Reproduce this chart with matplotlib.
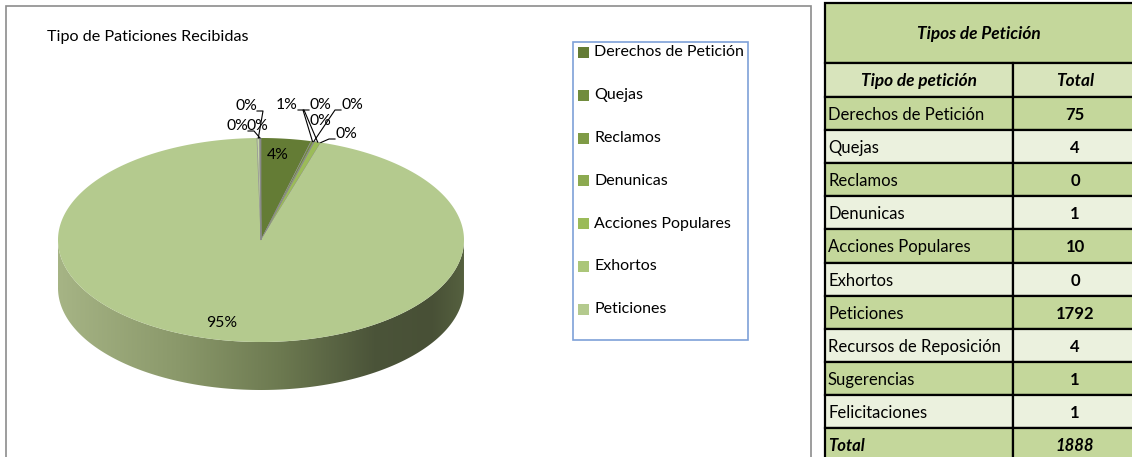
import numpy as np
import matplotlib.pyplot as plt
from matplotlib.patches import Rectangle, Polygon
from matplotlib.colors import LinearSegmentedColormap

# data
categories = ['Derechos de Petición', 'Quejas', 'Reclamos', 'Denunicas',
              'Acciones Populares', 'Exhortos', 'Peticiones',
              'Recursos de Reposición', 'Sugerencias', 'Felicitaciones']
totals = [75, 4, 0, 1, 10, 0, 1792, 4, 1, 1]
legend_count = 7
chart_title = 'Tipo de Paticiones Recibidas'
table_title = 'Tipos de Petición'
table_headers = ['Tipo de petición', 'Total']

# styles
slice_colors = ['#647c35', '#718c3d', '#7f9b46', '#8caa50', '#9bbb59',
                '#abc679', '#b4ca8e', '#c5d6a8', '#d3e1bd', '#e0eace']
side_cmap = LinearSegmentedColormap.from_list(
    'side', [(0, '#a6b485'), (0.3, '#8a986a'), (0.55, '#6c7950'),
             (0.78, '#4b5439'), (0.92, '#485036'), (1, '#55603f')])
dark_row, light_row, header_row = '#c4d79b', '#ebf1de', '#d8e4bc'

# label layout (pixel positions of the percent labels)
label_pos = [(278, 155), (320, 105), (352, 105), (320, 121), (287, 105),
             (346, 134), (222, 323), (246, 106), (237, 126), (257, 126)]
label_leader = [False, True, True, False, True, True, False, True, True, False]

plt.rcParams['font.family'] = ['Lato', 'DejaVu Sans']

fig = plt.figure(figsize=(11.32, 4.57), dpi=100)
ax = fig.add_axes([0, 0, 1, 1])

# chart frame
ax.add_patch(Rectangle((6, 6), 805, 470, facecolor='white', edgecolor='#8c8c8c', lw=1.2))
ax.text(47, 37, chart_title, fontsize=11.6, va='center', ha='left')

# 3d pie geometry
cx, cy, rx, ry, depth = 261, 240, 203, 102, 48
total = sum(totals)
fracs = np.array(totals) / total
bounds = 90 - 360 * np.concatenate([[0], np.cumsum(fracs)])


def ell(theta, dy=0.0):
    t = np.radians(theta)
    return cx + rx * np.cos(t), cy - ry * np.sin(t) + dy


# side walls (front half only)
for i in range(len(totals)):
    a1, a2 = bounds[i], bounds[i + 1]
    if a1 - a2 <= 0:
        continue
    th = np.linspace(a1, a2, 400)
    th = th[np.sin(np.radians(th)) < 0]
    if len(th) < 2:
        continue
    xs, ys = ell(th)
    xb, yb = ell(th[::-1], depth)
    pts = np.column_stack([np.concatenate([xs, xb]), np.concatenate([ys, yb])])
    poly = Polygon(pts, closed=True, facecolor='none', edgecolor='none')
    ax.add_patch(poly)
    im = ax.imshow(np.linspace(0, 1, 256)[None, :], cmap=side_cmap, aspect='auto',
                   extent=(cx - rx, cx + rx, cy + ry + depth, cy - ry), zorder=1)
    im.set_clip_path(poly)

# top surface
for i in range(len(totals)):
    a1, a2 = bounds[i], bounds[i + 1]
    if a1 - a2 <= 0:
        continue
    th = np.linspace(a1, a2, max(3, int((a1 - a2) * 2) + 2))
    xs, ys = ell(th)
    pts = np.column_stack([np.concatenate([[cx], xs]), np.concatenate([[cy], ys])])
    thin = (a1 - a2) < 3
    ax.add_patch(Polygon(pts, closed=True, facecolor=slice_colors[i],
                         edgecolor='#8a8a8a' if thin else 'none', lw=0.5, zorder=2))

# percent labels
for i, v in enumerate(totals):
    lx, ly = label_pos[i]
    ax.text(lx, ly, f'{round(v / total * 100)}%', fontsize=11.3, ha='center', va='center', zorder=4)
    if label_leader[i]:
        mid = (bounds[i] + bounds[i + 1]) / 2
        axx, ayy = ell(mid)
        s = 1 if axx > lx else -1
        sx, ex = lx + s * 11, lx + s * 17
        ax.plot([sx, ex, axx], [ly + 5, ly + 5, ayy], color='black', lw=0.8, zorder=3)

# legend
ax.add_patch(Rectangle((573, 42), 175, 298, facecolor='white', edgecolor='#7ea1d8', lw=1.2))
for i in range(legend_count):
    y = 52.5 + i * 42.8
    ax.add_patch(Rectangle((578, y - 5.5), 11, 11, facecolor=slice_colors[i], edgecolor='none'))
    ax.text(594, y, categories[i], fontsize=11.5, va='center', ha='left')

# table
tsize = 12
x0, x1, x2 = 825, 1013, 1138
row_h = 33.1
ax.add_patch(Rectangle((x0, 3), x2 - x0, 60, facecolor=dark_row, edgecolor='black', lw=1.6))
ax.text((x0 + 1132) / 2, 34, table_title, fontsize=12.4, fontweight='bold', fontstyle='italic',
        ha='center', va='center')
ax.add_patch(Rectangle((x0, 63), x1 - x0, 34, facecolor=header_row, edgecolor='black', lw=1.6))
ax.add_patch(Rectangle((x1, 63), x2 - x1, 34, facecolor=header_row, edgecolor='black', lw=1.6))
ax.text((x0 + x1) / 2, 81, table_headers[0], fontsize=12.4, fontweight='bold', fontstyle='italic',
        ha='center', va='center')
ax.text((x1 + 1137) / 2, 81, table_headers[1], fontsize=12.4, fontweight='bold', fontstyle='italic',
        ha='center', va='center')
rows = list(zip(categories, totals)) + [('Total', total)]
for r, (name, val) in enumerate(rows):
    top = 97 + r * row_h
    fc = dark_row if r % 2 == 0 else light_row
    last = r == len(rows) - 1
    for xa, xb in [(x0, x1), (x1, x2)]:
        ax.add_patch(Rectangle((xa, top), xb - xa, row_h, facecolor=fc, edgecolor='black', lw=1.6))
    style = 'italic' if last else 'normal'
    ax.text(x0 + 3, top + row_h / 2 + 1.5, name, fontsize=tsize, ha='left', va='center',
            fontweight='bold' if last else 'normal', fontstyle=style)
    ax.text((x1 + 1137) / 2, top + row_h / 2 + 1.5, str(val), fontsize=tsize, ha='center', va='center',
            fontweight='bold', fontstyle=style)

ax.set_xlim(0, 1132)
ax.set_ylim(457, 0)
ax.axis('off')

fig.savefig('out.png', dpi=100)
